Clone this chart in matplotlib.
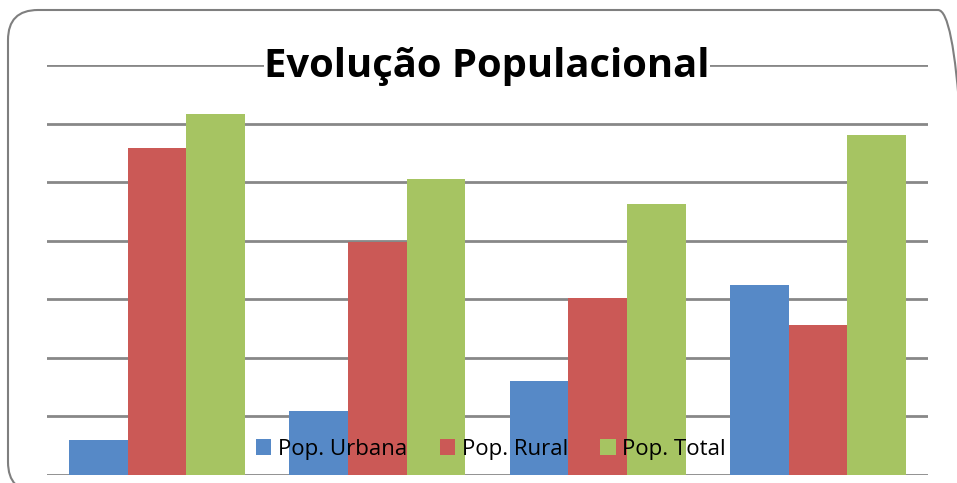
import numpy as np
import matplotlib.pyplot as plt
from matplotlib.patches import FancyBboxPatch
from matplotlib.transforms import IdentityTransform

# Data (in grid units)
categories = ['1', '2', '3', '4']
pop_urbana = [0.60, 1.09, 1.60, 3.24]
pop_rural = [5.58, 3.98, 3.02, 2.56]
pop_total = [6.16, 5.05, 4.63, 5.80]
series_names = ['Pop. Urbana', 'Pop. Rural', 'Pop. Total']
colors = ['#5689C7', '#CB5956', '#A6C462']

plt.rcParams['font.family'] = ['Open Sans', 'DejaVu Sans']

W, H = 957, 483
fig = plt.figure(figsize=(W / 100, H / 100), dpi=100)
ax = fig.add_axes([47 / W, 8 / H, (928 - 47) / W, (475 - 65) / H])

x = np.arange(len(categories))
bw = 0.2667
for i, (vals, name, c) in enumerate(zip([pop_urbana, pop_rural, pop_total], series_names, colors)):
    ax.bar(x + (i - 1) * bw, vals, width=bw, color=c, label=name, zorder=2)

ax.set_xlim(-0.5, len(categories) - 0.5)
ax.set_ylim(0, 7)
ax.set_yticks(range(0, 8))
ax.set_xticks([])
ax.tick_params(left=False, labelleft=False)
ax.grid(axis='y', color='#888888', linewidth=2)
ax.set_axisbelow(True)
for s in ax.spines.values():
    s.set_visible(False)

# title sits on top gridline with white background
fig.text(487 / W, (H - 77) / H, 'Evolução Populacional', ha='center', va='baseline',
         fontsize=28.8, fontweight='bold', color='black',
         bbox=dict(facecolor='white', edgecolor='none', pad=0))

leg = ax.legend(loc='center', bbox_to_anchor=(491 / W, (H - 449) / H),
                bbox_transform=fig.transFigure, ncol=3, frameon=False,
                fontsize=16, handlelength=0.7, handleheight=0.7,
                handletextpad=0.3, columnspacing=1.45)

# rounded chart border (pixel coords), runs off the right and bottom edges
border = FancyBboxPatch((8, -9), 968 - 8, H - 10 + 9,
                        boxstyle='round,pad=0,rounding_size=30',
                        transform=IdentityTransform(), facecolor='none',
                        edgecolor='#7f7f7f', linewidth=1.5, clip_on=False)
fig.patches.append(border)

fig.savefig('out.png', dpi=100)
